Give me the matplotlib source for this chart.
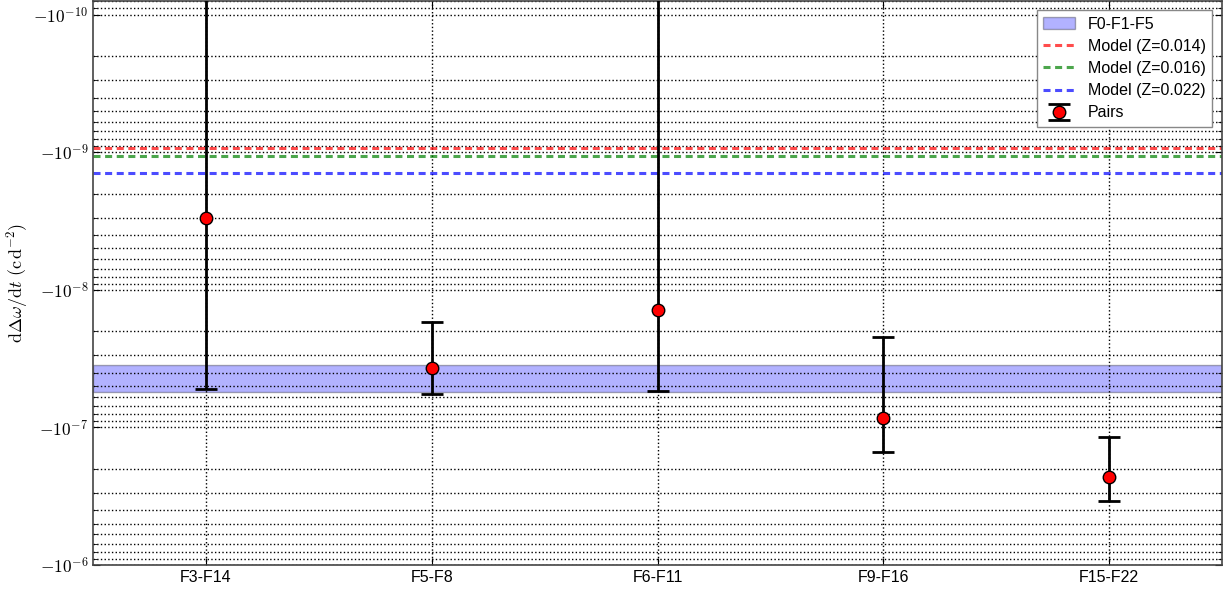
import numpy as np
import matplotlib
matplotlib.use("Agg")
import matplotlib.pyplot as plt
from matplotlib.lines import Line2D
from matplotlib.patches import Patch
from matplotlib.ticker import FuncFormatter

plt.rcParams['font.family'] = ['Liberation Sans', 'DejaVu Sans']
plt.rcParams['mathtext.fontset'] = 'cm'

# pair rates (c d^-2)
pairs = ['F3-F14', 'F5-F8', 'F6-F11', 'F9-F16', 'F15-F22']
rate = [-3.0e-9, -3.72e-8, -1.39e-8, -8.5e-8, -2.28e-7]
rate_low = [-5.3e-8, -5.67e-8, -5.4e-8, -1.5e-7, -3.41e-7]
rate_high = [0.0, -1.70e-8, 0.0, -2.19e-8, -1.17e-7]

# F0-F1-F5 band and model predictions
band = [-5.52e-8, -3.5e-8]
model_z = ['0.014', '0.016', '0.022']
model_rate = [-9.3e-10, -1.07e-9, -1.41e-9]
model_col = ['r', 'g', 'b']


def neg_pow(v, pos):
    if v >= 0:
        return ''
    e = int(round(np.log10(-v)))
    return r'$-10^{%d}$' % e


x = np.arange(len(pairs))
rate = np.array(rate)
err = [rate - np.array(rate_low), np.array(rate_high) - rate]

fig = plt.figure(figsize=(12.25, 5.91), dpi=100)
ax = fig.add_axes([0.076, 0.044, 0.9215, 0.955])

ax.axhspan(band[0], band[1], facecolor='b', edgecolor='k', alpha=0.3, lw=1)
for z, m, c in zip(model_z, model_rate, model_col):
    ax.axhline(m, color=c, ls='--', lw=2.2, alpha=0.7, dashes=(2.3, 1.5))

ax.errorbar(x, rate, yerr=err, fmt='o', color='k', mfc='r', mec='k',
            ms=9, lw=2, capsize=8, capthick=2, zorder=5)

ax.set_yscale('symlog', linthresh=1e-12, subs=list(range(2, 10)))
ax.set_ylim(-1e-6, -7.9e-11)
ax.yaxis.set_major_formatter(FuncFormatter(neg_pow))
ax.set_xlim(-0.5, 4.5)
ax.set_xticks(x)
ax.set_xticklabels(pairs, fontsize=11.5)
ax.tick_params(axis='y', labelsize=12.5)
ax.tick_params(which='both', direction='in', top=True, right=True)
ax.tick_params(which='major', length=5)
ax.tick_params(which='minor', length=3)

ax.grid(True, which='major', axis='both', ls=':', color='k', lw=1)
ax.grid(True, which='minor', axis='y', ls=':', color='k', lw=1)
for s in ax.spines.values():
    s.set_color('#444444')
    s.set_linewidth(1.2)

ax.set_ylabel(r'$\mathrm{d}\Delta\omega/\mathrm{d}t\ (\mathrm{c\,d^{-2}})$', fontsize=13)
ax.yaxis.set_label_coords(-0.056, 0.5)

handles = [Patch(facecolor='b', edgecolor='k', alpha=0.3)]
labels = ['F0-F1-F5']
for z, c in zip(model_z, model_col):
    handles.append(Line2D([], [], color=c, ls='--', lw=2.2, alpha=0.7, dashes=(2.3, 1.5)))
    labels.append('Model (Z=%s)' % z)
handles.append(ax.containers[0])
labels.append('Pairs')
ax.legend(handles, labels, loc='upper right', fontsize=11.5, fancybox=False,
          framealpha=1, edgecolor='#888888', borderaxespad=0.6, labelspacing=0.45)

fig.savefig('out.png', dpi=100)
